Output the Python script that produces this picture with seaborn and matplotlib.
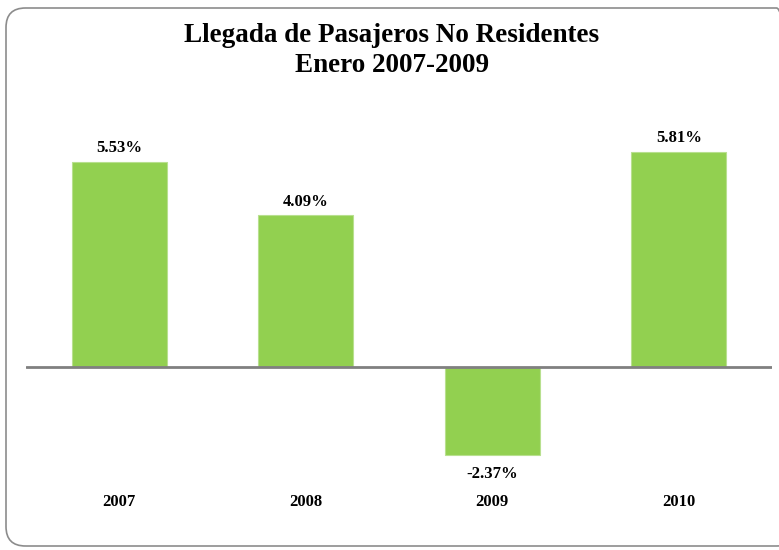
import pandas as pd
import matplotlib.pyplot as plt
import seaborn as sns
from matplotlib.patches import FancyBboxPatch

# Datos
years = ['2007', '2008', '2009', '2010']
growth = [5.53, 4.09, -2.37, 5.81]
labels = ['5.53%', '4.09%', '-2.37%', '5.81%']

data = pd.DataFrame({'year': years, 'growth': growth})

sns.set_style('white')
plt.rcParams['font.family'] = ['Liberation Serif', 'DejaVu Serif']
plt.rcParams['text.color'] = 'black'
plt.rcParams['xtick.color'] = 'black'

fig = plt.figure(figsize=(7.79, 5.5), dpi=100)
ax = fig.add_axes([0.0334, 0.1127, 0.9576, 0.7054])

sns.barplot(data=data, x='year', y='growth', color='#92D050', saturation=1,
            width=0.51, edgecolor='#b8e08f', linewidth=0.8, ax=ax)

ax.set_ylim(-3.26, 7.20)
ax.set_xlim(-0.5, 3.5)
ax.axhline(0, color='#808080', linewidth=2, zorder=3)

# Etiquetas de valores
for i, (v, lab) in enumerate(zip(growth, labels)):
    off = 7 if v >= 0 else -16.5
    ax.annotate(lab, (i, v), xytext=(0, off), textcoords='offset points',
                ha='center', va='baseline', fontsize=12, fontweight='bold')

ax.set_xlabel('')
ax.set_ylabel('')
ax.set_yticks([])
ax.tick_params(axis='x', length=0, pad=4, labelsize=12)
for t in ax.get_xticklabels():
    t.set_fontweight('bold')
for s in ax.spines.values():
    s.set_visible(False)

fig.text(0.503, 1 - 42 / 550, 'Llegada de Pasajeros No Residentes',
         ha='center', va='baseline', fontsize=19.5, fontweight='bold')
fig.text(0.503, 1 - 72 / 550, 'Enero 2007-2009',
         ha='center', va='baseline', fontsize=19.5, fontweight='bold')

# Borde redondeado del grafico
border = FancyBboxPatch((6 / 779, 4 / 550), 790 / 779, 538 / 550,
                        boxstyle='round,pad=0,rounding_size=0.025',
                        transform=fig.transFigure, fill=False,
                        edgecolor='#8c8c8c', linewidth=1.2, mutation_aspect=779 / 550)
fig.patches.append(border)

fig.savefig('out.png', dpi=100)
